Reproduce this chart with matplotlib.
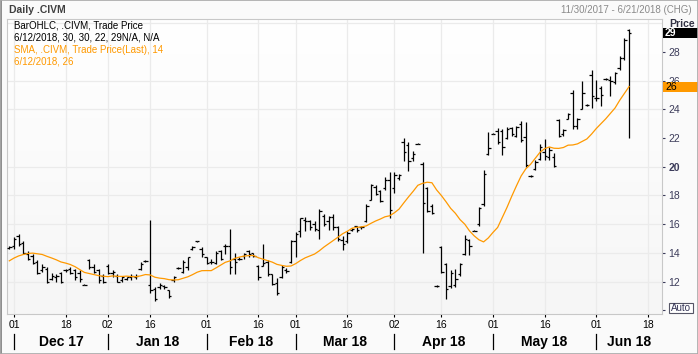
import numpy as np
import pandas as pd
import matplotlib
matplotlib.use("Agg")
import matplotlib.pyplot as plt
from matplotlib.patches import Rectangle
from matplotlib.lines import Line2D
from matplotlib.transforms import blended_transform_factory
from matplotlib.colors import LinearSegmentedColormap

plt.rcParams['font.family'] = ['Liberation Sans', 'DejaVu Sans']

# ---------------- data ----------------
holidays = ["2017-12-25", "2018-01-01", "2018-01-15", "2018-02-19", "2018-03-30", "2018-05-28"]
start_date = "2017-11-30"
end_view = "2018-06-21"

# closes before the visible window (only used to warm up the 14-day SMA)
prior_closes = [12.3, 12.5, 12.6, 12.6, 13.0, 13.3, 13.6, 13.8, 14.0, 14.2, 14.1, 13.9, 14.0]

opens = [14.35, 14.5, 15.2, 14.7, 13.9, 13.8, 13.4, 12.8, 12.9, 12.2, 12.3, 12.6, 12.8, 12.9, 12.8, 12.6,
         11.8, 13.5, 13.0, 12.8, 12.4, 13.1, 12.6, 12.4, 12.1, 12.2, 12.3, 12.3, 12.9, 13.45, 11.8, 11.5,
         11.6, 11.7, 11.4, 12.1, 12.95, 12.7, 13.0, 14.3, 14.8, 14.3, 13.7, 13.4, 13.3, 14.1, 14.5, 14.5,
         13.6, 13.6, 13.8, 14.1, 14.0, 13.1, 13.1, 13.4, 12.5, 11.9, 12.3, 12.8, 13.4, 14.8, 15.5, 16.3,
         16.2, 16.0, 15.6, 16.6, 16.2, 16.5, 15.8, 14.9, 14.8, 15.6, 15.85, 15.8, 16.2, 17.7, 18.6, 18.3,
         18.5, 19.1, 18.5, 19.2, 21.75, 21.5, 20.6, 21.6, 20.2, 18.5, 17.3, 11.7, 14.4, 13.2, 11.7, 11.8,
         12.5, 13.9, 14.9, 15.5, 16.0, 17.4, 20.9, 22.3, 22.5, 22.5, 22.0, 22.7, 22.15, 22.95, 22.05, 19.35,
         19.85, 20.55, 21.05, 20.65, 20.65, 23.25, 22.25, 23.3, 25.1, 22.8, 24.05, 24.3, 26.35, 24.8, 25.45, 26.1,
         26.05, 25.9, 26.85, 27.6, 29.5]
highs = [14.45, 15.1, 15.3, 14.8, 14.1, 13.9, 13.5, 13.2, 13.05, 12.6, 12.5, 12.7, 12.9, 13.0, 12.9, 12.8,
         11.85, 13.6, 13.2, 12.9, 12.5, 13.2, 12.8, 12.5, 12.4, 12.35, 12.5, 12.5, 13.4, 13.5, 16.3, 11.6,
         11.9, 11.8, 11.45, 12.4, 13.0, 13.5, 13.75, 14.5, 14.85, 14.4, 13.75, 13.6, 14.1, 14.2, 14.6, 15.7,
         14.0, 13.7, 14.0, 14.2, 14.0, 13.17, 14.6, 13.5, 12.55, 12.25, 13.17, 12.94, 14.9, 15.47, 16.46, 16.5,
         16.3, 16.2, 17.08, 16.7, 16.6, 16.7, 15.9, 15.2, 15.5, 15.75, 15.9, 15.9, 17.4, 18.8, 18.7, 18.35,
         19.26, 19.6, 19.6, 19.5, 22.0, 21.7, 21.1, 21.65, 20.3, 18.6, 17.4, 11.75, 14.5, 13.3, 12.8, 12.9,
         13.3, 15.24, 15.0, 15.6, 17.2, 19.8, 22.45, 22.35, 22.7, 22.6, 22.75, 22.75, 22.85, 23.15, 23.1, 19.4,
         20.45, 21.55, 21.9, 21.35, 20.95, 23.35, 22.65, 23.75, 25.35, 23.4, 26.0, 24.35, 26.7, 26.05, 25.65, 26.15,
         26.3, 26.6, 27.7, 28.95, 29.55]
lows = [14.3, 14.3, 14.45, 13.9, 13.5, 13.2, 12.5, 12.7, 11.9, 12.1, 12.0, 11.9, 12.7, 12.5, 12.1, 12.0,
        11.75, 12.9, 12.6, 11.9, 11.9, 12.5, 12.3, 11.95, 12.0, 12.1, 12.15, 12.2, 12.8, 13.4, 11.2, 10.65,
        11.5, 11.5, 10.85, 12.0, 12.9, 12.6, 12.8, 14.2, 14.75, 13.75, 13.2, 13.2, 13.2, 13.5, 13.9, 12.5,
        12.5, 13.5, 13.6, 13.7, 13.7, 12.14, 13.06, 12.37, 11.8, 11.1, 12.25, 12.6, 13.3, 13.75, 15.1, 15.5,
        15.6, 15.5, 15.0, 15.9, 15.6, 15.6, 14.8, 14.2, 14.7, 15.55, 15.45, 15.7, 16.16, 17.65, 18.0, 17.54,
        18.35, 16.4, 18.2, 19.1, 20.4, 19.7, 20.4, 21.55, 14.0, 16.85, 16.7, 11.65, 12.6, 10.76, 11.56, 11.6,
        12.37, 13.86, 13.86, 15.5, 15.9, 17.3, 20.8, 22.25, 21.55, 20.8, 21.95, 22.15, 22.05, 21.75, 20.0, 19.3,
        19.75, 20.45, 20.45, 20.45, 20.0, 22.1, 22.15, 23.3, 22.65, 22.65, 24.0, 24.25, 24.1, 24.55, 24.2, 26.05,
        24.9, 25.75, 26.75, 27.45, 22.0]
closes = [14.4, 15.0, 14.6, 14.0, 13.6, 13.3, 12.6, 13.0, 12.0, 12.4, 12.4, 12.0, 12.8, 12.6, 12.3, 12.2,
          11.8, 13.0, 12.7, 12.1, 12.0, 12.6, 12.7, 12.0, 12.3, 12.3, 12.4, 12.4, 13.2, 13.45, 11.4, 10.8,
          11.8, 11.6, 11.0, 12.3, 12.95, 13.4, 13.7, 14.4, 14.8, 13.9, 13.3, 13.4, 14.0, 13.6, 14.5, 13.0,
          13.4, 13.6, 13.9, 13.9, 13.8, 12.3, 13.3, 12.5, 11.85, 11.2, 13.0, 12.75, 14.8, 15.3, 16.4, 16.2,
          15.8, 15.7, 16.9, 16.0, 16.5, 15.8, 15.0, 14.6, 15.4, 15.7, 15.6, 15.8, 17.3, 18.7, 18.1, 17.6,
          19.1, 17.0, 19.4, 19.4, 21.0, 20.4, 20.9, 21.6, 17.5, 16.9, 16.8, 11.7, 12.7, 11.5, 12.6, 12.2,
          13.2, 15.0, 14.5, 15.55, 17.1, 19.5, 21.3, 22.3, 21.7, 21.4, 22.6, 22.25, 22.75, 21.85, 20.15, 19.35,
          20.35, 21.35, 20.75, 21.15, 20.05, 22.15, 22.55, 23.7, 22.8, 23.3, 25.1, 24.3, 24.9, 24.75, 25.0, 26.1,
          26.0, 26.5, 27.6, 28.8, 29.3]

sma_window = 14
y_ticks = [10, 12, 14, 16, 18, 20, 22, 24, 26, 28]
grid_levels = [12, 14, 16, 18, 20, 24, 26, 30]
day_ticks = ["2017-12-01", "2017-12-18", "2018-01-02", "2018-01-16", "2018-02-01", "2018-02-16",
             "2018-03-01", "2018-03-16", "2018-04-02", "2018-04-16", "2018-05-01", "2018-05-16",
             "2018-06-01", "2018-06-18"]
day_labels = ["01", "18", "02", "16", "01", "16", "01", "16", "02", "16", "01", "16", "01", "18"]
month_starts = ["2017-12-01", "2018-01-02", "2018-02-01", "2018-03-01", "2018-04-02", "2018-05-01", "2018-06-01"]
month_labels = ["Dec 17", "Jan 18", "Feb 18", "Mar 18", "Apr 18", "May 18", "Jun 18"]

legend_lines = ["BarOHLC, .CIVM, Trade Price",
                "6/12/2018, 30, 30, 22, 29N/A, N/A",
                "SMA, .CIVM, Trade Price(Last), 14",
                "6/12/2018, 26"]

# ---------------- index (trading days) ----------------
days = pd.bdate_range(start_date, end_view, freq="C", holidays=holidays)
pos = {d.strftime("%Y-%m-%d"): i - 1 for i, d in enumerate(days)}   # Nov 30 -> -1
n = len(closes)
x = np.arange(n) - 1
allc = pd.Series(prior_closes + closes)
sma = allc.rolling(sma_window).mean().values[len(prior_closes):]

W, H = 698, 354
fig = plt.figure(figsize=(W / 100, H / 100), dpi=100)
fig.patch.set_facecolor('#FAFAFA')

def fx(px):
    return px / W

def fy(py):
    return 1 - py / H

ax = fig.add_axes([fx(7), fy(314), fx(662) - fx(7), fy(19) - fy(314)])
grad = LinearSegmentedColormap.from_list('g', ['#FFFFFF', '#F6F6F6'])
ax.imshow(np.linspace(0, 1, 100)[:, None], cmap=grad, aspect='auto',
          extent=[0, 1, 0, 1], transform=ax.transAxes, zorder=0)
ax.set_xlim(-1.49, 138.0)
ax.set_ylim(9.75, 30.28)

for g in grid_levels:
    ax.axhline(g, color='#EBEBEB', lw=0.9, zorder=1)
tick_x = [pos[d] for d in day_ticks]
for t in tick_x:
    ax.axvline(t, color='#EBEBEB', lw=0.9, zorder=1)

# OHLC bars
w = 0.5
ax.vlines(x, lows, highs, color='black', lw=0.9, zorder=3)
ax.hlines(opens, x - w, x, color='black', lw=0.9, zorder=3)
ax.hlines(closes, x, x + w, color='black', lw=0.9, zorder=3)
# SMA
ax.plot(x, sma, color='#FF9900', lw=0.9, zorder=4)

for s in ax.spines.values():
    s.set_color('#C8C8C8')
    s.set_linewidth(0.8)

# right price axis (the 10 label sits under the "Auto" box in the reference)
ax.yaxis.tick_right()
ax.set_yticks(y_ticks)
ax.set_yticklabels(['' if v == 10 else str(v) for v in y_ticks])
ax.tick_params(axis='y', direction='out', length=2.5, width=0.8, pad=2,
               labelsize=7.5, colors='#3C3C5A')
for lbl in ax.get_yticklabels():
    if lbl.get_text() == '20':
        lbl.set_fontweight('bold')

# bottom date axis
ax.set_xticks(tick_x)
ax.set_xticklabels(day_labels)
ax.tick_params(axis='x', direction='out', length=2.5, width=0.8, pad=2,
               labelsize=7.5, colors='black')

bt = blended_transform_factory(ax.transData, fig.transFigure)
ms = [pos[d] for d in month_starts]
for m in ms:
    ax.plot([m, m], [fy(334), fy(349)], color='black', lw=0.9, transform=bt, clip_on=False)
ends = ms[1:] + [138.0]
for m, e, lab in zip(ms, ends, month_labels):
    ax.text((m + e) / 2, fy(342), lab, transform=bt, ha='center', va='center',
            fontsize=10, fontweight='bold', color='black', clip_on=False)

# legend texts
cols = ['black', 'black', '#FF9900', '#FF9900']
for k, (t, c) in enumerate(zip(legend_lines, cols)):
    fig.text(fx(14), fy(26 + 12 * k), t, fontsize=7, color=c, va='center', ha='left')

# header texts
fig.text(fx(9), fy(10), 'Daily .CIVM', fontsize=7.5, fontweight='bold', color='#404040', va='center')
fig.text(fx(692), fy(10), '11/30/2017 - 6/21/2018 (CHG)', fontsize=7, color='#8A8A8A',
         va='center', ha='right')
fig.text(fx(669), fy(24), 'Price', fontsize=7.5, fontweight='bold', color='#333344', va='center')

# value boxes
def val_box(val, face, tcol, weight):
    ydisp = ax.transData.transform((0, val))[1]
    yc = ydisp / H
    hh = 10 / H
    fig.patches.append(Rectangle((fx(663), yc - hh / 2), fx(698) - fx(663), hh,
                                 transform=fig.transFigure, facecolor=face, edgecolor='none', zorder=5))
    fig.text(fx(665), yc, f"{int(val + 0.5)}", fontsize=7.5, color=tcol, fontweight=weight,
             va='center', ha='left', zorder=6)

val_box(closes[-1], 'black', 'white', 'bold')
val_box(sma[-1], '#FF9900', 'black', 'normal')

# Auto box
fig.patches.append(Rectangle((fx(669), fy(313)), fx(693) - fx(669), fy(303) - fy(313),
                             transform=fig.transFigure, facecolor='white', edgecolor='#555566',
                             lw=0.8, zorder=5))
fig.text(fx(681), fy(308), 'Auto', fontsize=7, color='#333355', ha='center', va='center', zorder=6)

# outer border
fig.patches.append(Rectangle((0, 0), 1, 1, transform=fig.transFigure, fill=False,
                             edgecolor='#A8A8A8', lw=1.2, zorder=7))
fig.add_artist(Line2D([fx(1), fx(1)], [0, 1], color='#7A7A7A', lw=1.2, zorder=7))

fig.savefig('out.png', dpi=100, facecolor=fig.get_facecolor())
